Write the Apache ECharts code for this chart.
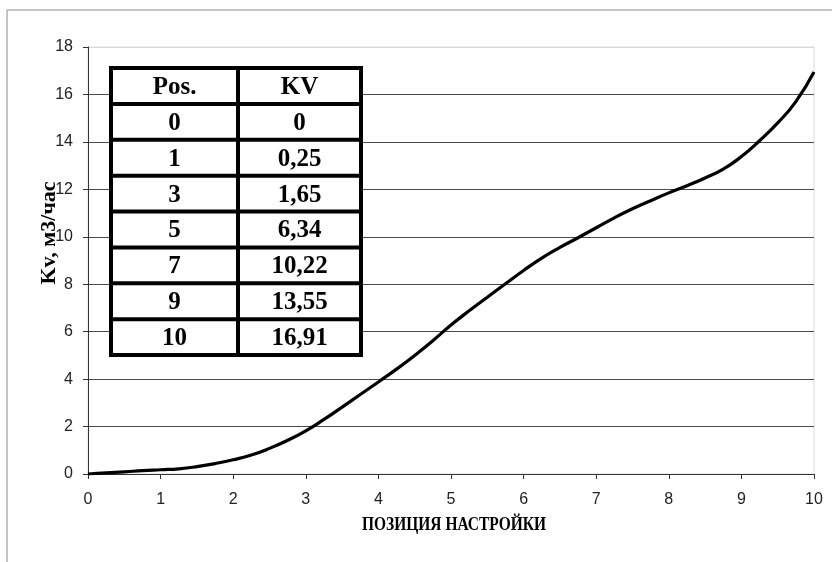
<!DOCTYPE html>
<html>
<head>
<meta charset="utf-8">
<script src="https://cdn.jsdelivr.net/npm/echarts@6/dist/echarts.min.js"></script>
<style>
html,body{margin:0;padding:0;background:#fff;}
#c{width:832px;height:562px;}
</style>
</head>
<body>
<div id="c"></div>
<script>
// ---- data ----
var curveX = [0, 0.25, 0.5, 0.75, 1, 1.25, 1.5, 1.75, 2, 2.25, 2.5, 2.75, 3, 3.25, 3.5, 3.75, 4, 4.25, 4.5, 4.75, 5, 5.25, 5.5, 5.75, 6, 6.25, 6.5, 6.75, 7, 7.25, 7.5, 7.75, 8, 8.25, 8.5, 8.75, 9, 9.25, 9.5, 9.75, 10];
var curveKv = [0, 0.05, 0.09, 0.14, 0.18, 0.22, 0.31, 0.44, 0.6, 0.8, 1.08, 1.42, 1.82, 2.3, 2.82, 3.35, 3.88, 4.42, 5.0, 5.62, 6.28, 6.88, 7.45, 8.02, 8.58, 9.1, 9.55, 9.96, 10.38, 10.8, 11.18, 11.52, 11.85, 12.15, 12.48, 12.85, 13.38, 14.05, 14.8, 15.7, 16.95];
var tableHeader = ['Pos.', 'KV'];
var tablePos = ['0', '1', '3', '5', '7', '9', '10'];
var tableKv = ['0', '0,25', '1,65', '6,34', '10,22', '13,55', '16,91'];
var xTicks = [0, 1, 2, 3, 4, 5, 6, 7, 8, 9, 10];
var yTicks = [0, 2, 4, 6, 8, 10, 12, 14, 16, 18];
var xTitle = 'ПОЗИЦИЯ НАСТРОЙКИ';
var yTitle = 'Kv, м3/час';

// ---- build ----
var chart = echarts.init(document.getElementById('c'), null, {renderer: 'canvas'});

var serif = '"Liberation Serif", "Times New Roman", serif';
var sans = '"Liberation Sans", Arial, sans-serif';

var tbl = {left: 111, top: 68, right: 361, bottom: 355, mid: 238};
var nRows = tablePos.length + 1;
var rowH = (tbl.bottom - tbl.top) / nRows;
var tableEls = [];
tableEls.push({type: 'rect', shape: {x: tbl.left, y: tbl.top, width: tbl.right - tbl.left, height: tbl.bottom - tbl.top},
  style: {fill: '#fff', stroke: '#000', lineWidth: 4}, z: 10});
tableEls.push({type: 'line', shape: {x1: tbl.mid, y1: tbl.top, x2: tbl.mid, y2: tbl.bottom},
  style: {stroke: '#000', lineWidth: 4}, z: 11});
for (var r = 1; r < nRows; r++) {
  var yy = tbl.top + r * rowH;
  tableEls.push({type: 'line', shape: {x1: tbl.left, y1: yy, x2: tbl.right, y2: yy},
    style: {stroke: '#000', lineWidth: 4}, z: 11});
}
var rows = [tableHeader].concat(tablePos.map(function (p, i) { return [p, tableKv[i]]; }));
rows.forEach(function (row, i) {
  var cy = tbl.top + (i + 0.5) * rowH + 1.5;
  [[row[0], (tbl.left + tbl.mid) / 2], [row[1], (tbl.mid + tbl.right) / 2]].forEach(function (c) {
    tableEls.push({type: 'text', x: c[1], y: cy, z: 12,
      style: {text: c[0], fill: '#000', font: 'bold 25px ' + serif,
        align: 'center', verticalAlign: 'middle'}});
  });
});

var splitColors = yTicks.map(function (v, i) { return i === yTicks.length - 1 ? '#d8d8d8' : '#4a4a4a'; });

chart.setOption({
  backgroundColor: '#fff',
  animation: false,
  grid: {left: 88, right: 18, top: 47, bottom: 88, show: true, borderColor: '#dcdcdc', borderWidth: 1},
  xAxis: {
    type: 'value', min: xTicks[0], max: xTicks[xTicks.length - 1], interval: 1,
    axisLine: {show: true, lineStyle: {color: '#333', width: 1}},
    axisTick: {show: true, inside: false, length: 5, lineStyle: {color: '#333'}},
    axisLabel: {margin: 18, fontFamily: sans, fontSize: 16, color: '#222'},
    splitLine: {show: false}
  },
  yAxis: {
    type: 'value', min: yTicks[0], max: yTicks[yTicks.length - 1], interval: 2,
    axisLine: {show: true, lineStyle: {color: '#333', width: 1}},
    axisTick: {show: true, inside: false, length: 5, lineStyle: {color: '#333'}},
    axisLabel: {margin: 15, fontFamily: sans, fontSize: 16, color: '#222'},
    splitLine: {show: true, lineStyle: {color: splitColors, width: 1}}
  },
  series: [{
    type: 'line',
    data: curveX.map(function (x, i) { return [x, curveKv[i]]; }),
    smooth: true,
    showSymbol: false,
    lineStyle: {color: '#000', width: 3.2},
    z: 5
  }],
  graphic: [
    {type: 'rect', shape: {x: 7, y: 10, width: 1000, height: 1000}, style: {fill: 'none', stroke: '#8a8a8a', lineWidth: 1}, z: 0, silent: true},
    {type: 'text', x: 49, y: 233, rotation: Math.PI / 2, z: 12,
      style: {text: yTitle, fill: '#000', font: 'bold 22px ' + serif, align: 'center', verticalAlign: 'middle'}},
    {type: 'text', x: 454, y: 525, scaleX: 0.86, z: 12,
      style: {text: xTitle, fill: '#000', font: 'bold 18px ' + serif, align: 'center', verticalAlign: 'middle'}},
    {type: 'group', children: tableEls}
  ]
});
</script>
</body>
</html>
